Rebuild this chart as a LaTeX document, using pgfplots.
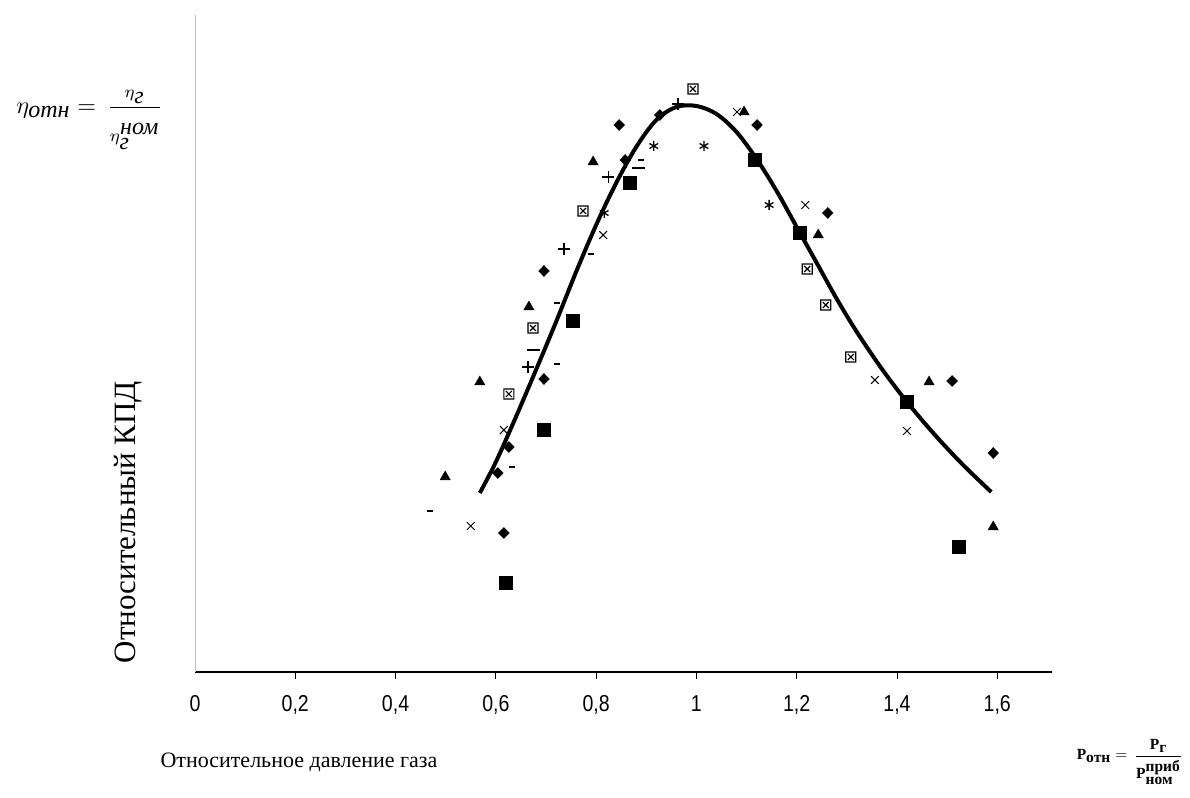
\documentclass[border=0pt]{standalone}
\usepackage{pgfplots}
\pgfplotsset{compat=1.18}
\usepackage{fontspec}
\setmainfont{Liberation Serif}
\newfontfamily\tickfont{Liberation Sans}[FakeStretch=0.85]

% boxed cross mark
\pgfdeclareplotmark{boxx}{%
  \pgfpathrectangle{\pgfqpoint{-\pgfplotmarksize}{-\pgfplotmarksize}}{\pgfqpoint{2\pgfplotmarksize}{2\pgfplotmarksize}}%
  \pgfpathmoveto{\pgfqpoint{-.6\pgfplotmarksize}{-.6\pgfplotmarksize}}%
  \pgfpathlineto{\pgfqpoint{.6\pgfplotmarksize}{.6\pgfplotmarksize}}%
  \pgfpathmoveto{\pgfqpoint{-.6\pgfplotmarksize}{.6\pgfplotmarksize}}%
  \pgfpathlineto{\pgfqpoint{.6\pgfplotmarksize}{-.6\pgfplotmarksize}}%
  \pgfusepathqstroke}

\begin{document}
\begin{tikzpicture}
\begin{axis}[
    name=ax,
    scale only axis,
    width=857pt, height=657pt,
    xmin=0, xmax=1.7092,
    ymin=0, ymax=6.57,
    axis x line=bottom, axis y line=left,
    x axis line style={-, black, line width=1.6pt},
    y axis line style={-, black!25, line width=0.8pt},
    xtick={0.2,0.4,...,1.6},
    xticklabels={{0,2},{0,4},{0,6},{0,8},1,{1,2},{1,4},{1,6}},
    extra x ticks={0}, extra x tick labels={0},
    extra x tick style={tick style={draw=none}},
    ytick=\empty,
    tick align=outside,
    major tick length=7pt,
    tick style={black, line width=0.8pt},
    xticklabel style={font=\tickfont\fontsize{23}{23}\selectfont, yshift=-13pt},
    clip=false,
]
% fitted curve
\addplot[black, line width=4pt, smooth, tension=0.55] coordinates {
  (0.568,1.79) (0.600,2.10) (0.640,2.55) (0.680,3.02) (0.720,3.50)
  (0.760,4.00) (0.800,4.47) (0.840,4.89) (0.880,5.25) (0.920,5.52)
  (0.960,5.65) (1.000,5.66) (1.040,5.58) (1.080,5.40) (1.120,5.13)
  (1.160,4.81) (1.200,4.45) (1.240,4.09) (1.280,3.73) (1.320,3.40)
  (1.370,3.03) (1.420,2.70) (1.474,2.38) (1.530,2.08) (1.588,1.80)
};
% diamonds
\addplot[only marks, mark=diamond*, mark size=5.5pt, black, mark options={xscale=1.3}] coordinates {
  (0.846,5.47) (0.858,5.12) (0.696,4.01) (0.927,5.57) (1.121,5.47) (1.262,4.59)
  (0.696,2.93) (0.626,2.25) (0.604,1.99) (0.616,1.39) (1.510,2.91) (1.592,2.19)
};
% triangles
\addplot[only marks, mark=triangle*, mark size=6pt, black] coordinates {
  (0.794,5.10) (1.095,5.60) (1.243,4.37) (0.666,3.65) (0.568,2.90) (0.499,1.95)
  (1.464,2.90) (1.592,1.45)
};
% squares
\addplot[only marks, mark=square*, mark size=6.5pt, black] coordinates {
  (0.866,4.89) (1.117,5.12) (1.205,4.39) (0.754,3.51) (0.696,2.42) (0.620,0.89)
  (1.420,2.70) (1.524,1.25)
};
% boxed crosses
\addplot[only marks, mark=boxx, mark size=5pt, black, mark options={line width=1.2pt}] coordinates {
  (0.993,5.83) (0.774,4.61) (1.221,4.03) (0.674,3.44) (0.626,2.78) (1.258,3.67)
  (1.308,3.15)
};
% asterisks
\addplot[only marks, mark=asterisk, mark size=5pt, black, mark options={line width=1.3pt}] coordinates {
  (0.915,5.26) (1.015,5.26) (0.816,4.59) (1.145,4.67)
};
% crosses
\addplot[only marks, mark=x, mark size=5.5pt, black, mark options={line width=1pt}] coordinates {
  (1.081,5.60) (0.814,4.37) (1.217,4.67) (0.616,2.42) (0.550,1.46) (1.356,2.92)
  (1.420,2.41)
};
% plus
\addplot[only marks, mark=+, mark size=6pt, black, mark options={line width=1.3pt}] coordinates {
  (0.963,5.68) (0.824,4.95) (0.736,4.23) (0.664,3.05)
};
% long dashes
\addplot[only marks, mark=-, mark size=6.5pt, black, mark options={line width=1.5pt}] coordinates {
  (0.884,5.04) (0.676,3.22)
};
% short dashes
\addplot[only marks, mark=-, mark size=3pt, black, mark options={line width=1.5pt}] coordinates {
  (0.890,5.12) (0.790,4.18) (0.722,3.69) (0.722,3.08) (0.632,2.05) (0.469,1.61)
};
\end{axis}

\node[rotate=90, font=\fontsize{31}{31}\selectfont]
  at ([shift={(-67pt,150pt)}]ax.south west) {Относительный КПД};
\node[font=\fontsize{22}{22}\selectfont]
  at ([shift={(104pt,-90pt)}]ax.south west) {Относительное давление газа};
\node[scale=2.4, anchor=west]
  at ([shift={(-187pt,552pt)}]ax.south west)
  {$\eta_{\textit{отн}} = \,\displaystyle\frac{\scriptstyle\eta_{\textit{г}}}{\scriptstyle\rule{0pt}{1.25em}\eta_{\textit{г}}^{\textit{ном}}}$};
\node[scale=1.55, anchor=east]
  at ([shift={(993pt,-90pt)}]ax.south west)
  {$\textbf{Р}_{\textbf{отн}} = \,\displaystyle\frac{\scriptstyle\textbf{Р}_{\textbf{г}}}{\scriptstyle\rule{0pt}{1.3em}\textbf{Р}^{\textbf{приб}}_{\textbf{ном}}}$};

\pgfresetboundingbox
\useasboundingbox ([shift={(-195pt,-125pt)}]ax.south west) rectangle ([shift={(995pt,672pt)}]ax.south west);
\end{tikzpicture}
\end{document}
